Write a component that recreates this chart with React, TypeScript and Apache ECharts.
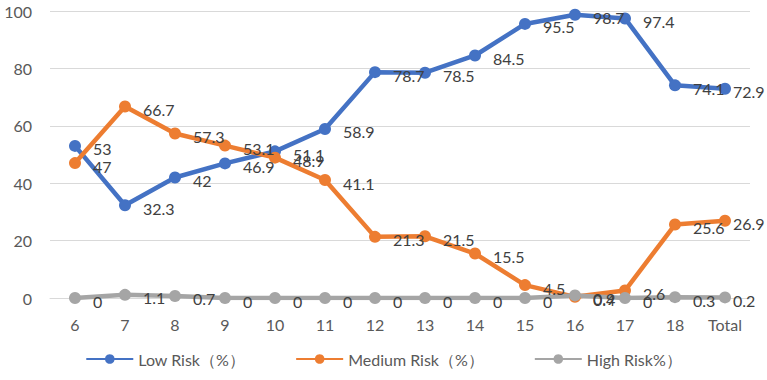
import React, { useEffect, useRef } from "react";
import * as echarts from "echarts";

const categories = ["6", "7", "8", "9", "10", "11", "12", "13", "14", "15", "16", "17", "18", "Total"];
const lowRisk = [53, 32.3, 42, 46.9, 51.1, 58.9, 78.7, 78.5, 84.5, 95.5, 98.7, 97.4, 74.1, 72.9];
const mediumRisk = [47, 66.7, 57.3, 53.1, 48.9, 41.1, 21.3, 21.5, 15.5, 4.5, 0.4, 2.6, 25.6, 26.9];
const highRisk = [0, 1.1, 0.7, 0, 0, 0, 0, 0, 0, 0, 0.9, 0, 0.3, 0.2];
const yTicks = { min: 0, max: 100, interval: 20 };

const FONT = "Lato, 'Liberation Sans', sans-serif";

export default function App() {
  const ref = useRef<HTMLDivElement>(null);
  useEffect(() => {
    const chart = echarts.init(ref.current!, null, { renderer: "svg" });
    const mk = (name: string, values: number[], color: string) => ({
      name,
      type: "line",
      data: values.map((v, i) =>
        i === values.length - 1 ? { value: v, label: { distance: 2 } } : v
      ),
      symbol: "circle",
      symbolSize: 12,
      lineStyle: { width: 4.5, color },
      itemStyle: { color },
      label: {
        show: true,
        position: "right",
        distance: 12,
        offset: [0, 3],
        fontSize: 16,
        fontFamily: FONT,
        color: "#404040",
      },
    });
    chart.setOption({
      animation: false,
      grid: { left: 50, right: 17, top: 11, bottom: 82, containLabel: false },
      legend: {
        bottom: 8,
        left: "center",
        itemWidth: 47,
        itemHeight: 12,
        itemGap: 50,
        textStyle: { fontSize: 16, fontFamily: FONT, color: "#595959" },
        data: ["Low Risk（%）", "Medium Risk（%）", "High Risk%）"],
      },
      xAxis: {
        type: "category",
        data: categories,
        boundaryGap: true,
        axisLine: { show: true, lineStyle: { color: "#d9d9d9" } },
        axisTick: { show: false },
        axisLabel: { fontSize: 16, fontFamily: FONT, color: "#595959", margin: 18 },
      },
      yAxis: {
        type: "value",
        min: yTicks.min,
        max: yTicks.max,
        interval: yTicks.interval,
        axisLine: { show: false },
        axisTick: { show: false },
        splitLine: { lineStyle: { color: "#d9d9d9", width: 1 } },
        axisLabel: { fontSize: 16, fontFamily: FONT, color: "#595959", margin: 18 },
      },
      series: [
        mk("Low Risk（%）", lowRisk, "#4472C4"),
        mk("Medium Risk（%）", mediumRisk, "#ED7D31"),
        mk("High Risk%）", highRisk, "#A5A5A5"),
      ],
    });
    return () => chart.dispose();
  }, []);
  return <div ref={ref} style={{ width: 767, height: 380, position: "absolute", left: 0, top: 0, background: "#fff" }} />;
}
